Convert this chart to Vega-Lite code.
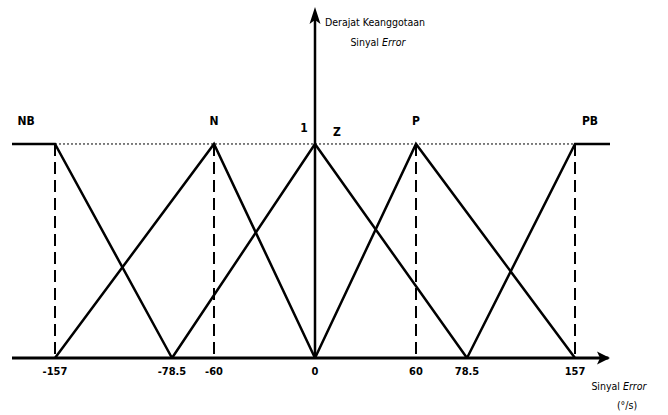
{
  "$schema": "https://vega.github.io/schema/vega-lite/v6.json",
  "width": 668,
  "height": 415,
  "padding": 0,
  "autosize": {"type": "none"},
  "background": "white",
  "config": {
    "view": {"stroke": null},
    "text": {"font": "'Liberation Sans Narrow', 'DejaVu Sans Condensed', Roboto, sans-serif", "fontSize": 10.5, "color": "black"}
  },
  "datasets": {
    "membership": [
      {"set": "NB", "order": 1, "e": -200, "mu": 1},
      {"set": "NB", "order": 2, "e": -157, "mu": 1},
      {"set": "NB", "order": 3, "e": -78.5, "mu": 0},
      {"set": "N", "order": 1, "e": -157, "mu": 0},
      {"set": "N", "order": 2, "e": -60, "mu": 1},
      {"set": "N", "order": 3, "e": 0, "mu": 0},
      {"set": "Z", "order": 1, "e": -78.5, "mu": 0},
      {"set": "Z", "order": 2, "e": 0, "mu": 1},
      {"set": "Z", "order": 3, "e": 78.5, "mu": 0},
      {"set": "P", "order": 1, "e": 0, "mu": 0},
      {"set": "P", "order": 2, "e": 60, "mu": 1},
      {"set": "P", "order": 3, "e": 157, "mu": 0},
      {"set": "PB", "order": 1, "e": 78.5, "mu": 0},
      {"set": "PB", "order": 2, "e": 157, "mu": 1},
      {"set": "PB", "order": 3, "e": 200, "mu": 1}
    ],
    "ticks": [
      {"e": -157, "label": "-157"},
      {"e": -78.5, "label": "-78.5"},
      {"e": -60, "label": "-60"},
      {"e": 0, "label": "0"},
      {"e": 60, "label": "60"},
      {"e": 78.5, "label": "78.5"},
      {"e": 157, "label": "157"}
    ],
    "guides": [
      {"e": -157},
      {"e": -60},
      {"e": 60},
      {"e": 157}
    ]
  },
  "layer": [
    {
      "data": {"values": [{"a": -157, "b": 157, "mu": 1}]},
      "mark": {"type": "rule", "color": "black", "strokeWidth": 1, "strokeDash": [2, 2]},
      "encoding": {
        "x": {"field": "a", "type": "quantitative", "axis": null,
              "scale": {"domain": [-200, -157, -78.5, -60, 0, 60, 78.5, 157, 200],
                        "range": [12, 55, 172, 214, 315, 416, 467, 575, 610],
                        "zero": false, "nice": false}},
        "x2": {"field": "b"},
        "y": {"field": "mu", "type": "quantitative", "axis": null,
              "scale": {"domain": [0, 1.64], "range": [358, 7], "zero": false, "nice": false}}
      }
    },
    {
      "data": {"name": "guides"},
      "mark": {"type": "rule", "color": "black", "strokeWidth": 2, "strokeDash": [12, 6]},
      "encoding": {
        "x": {"field": "e", "type": "quantitative"},
        "y": {"datum": 1},
        "y2": {"datum": 0}
      }
    },
    {
      "data": {"name": "membership"},
      "mark": {"type": "line", "color": "black", "strokeWidth": 2.5, "strokeJoin": "miter", "strokeCap": "butt"},
      "encoding": {
        "x": {"field": "e", "type": "quantitative"},
        "y": {"field": "mu", "type": "quantitative"},
        "detail": {"field": "set"},
        "order": {"field": "order"}
      }
    },
    {
      "data": {"values": [{"a": -200, "b": 198}]},
      "mark": {"type": "rule", "color": "black", "strokeWidth": 3},
      "encoding": {
        "x": {"field": "a", "type": "quantitative"},
        "x2": {"field": "b"},
        "y": {"datum": 0}
      }
    },
    {
      "data": {"values": [{"lo": 0, "hi": 1.6}]},
      "mark": {"type": "rule", "color": "black", "strokeWidth": 2.5},
      "encoding": {
        "x": {"datum": 0},
        "y": {"field": "lo", "type": "quantitative"},
        "y2": {"field": "hi"}
      }
    },
    {
      "data": {"values": [{"e": 0, "mu": 1.64}]},
      "mark": {"type": "point", "filled": true, "color": "black", "opacity": 1,
               "shape": "M0,0 L0.55,1.7 L0,1.3 L-0.55,1.7 Z", "size": 400},
      "encoding": {
        "x": {"field": "e", "type": "quantitative"},
        "y": {"field": "mu", "type": "quantitative"}
      }
    },
    {
      "data": {"values": [{"e": 200, "mu": 0}]},
      "mark": {"type": "point", "filled": true, "color": "black", "opacity": 1,
               "shape": "M0,0 L-1.3,-0.65 L-1.0,0 L-1.3,0.65 Z", "size": 400},
      "encoding": {
        "x": {"field": "e", "type": "quantitative"},
        "y": {"field": "mu", "type": "quantitative"}
      }
    },
    {
      "data": {"name": "ticks"},
      "mark": {"type": "text", "dy": 14, "baseline": "middle", "align": "center", "fontSize": 11, "fontWeight": 600},
      "encoding": {
        "x": {"field": "e", "type": "quantitative"},
        "y": {"datum": 0},
        "text": {"field": "label"}
      }
    },
    {
      "data": {"values": [{"e": -60, "name": "N"}, {"e": 60, "name": "P"}]},
      "mark": {"type": "text", "dy": -23, "baseline": "middle", "fontSize": 12, "fontWeight": "bold"},
      "encoding": {
        "x": {"field": "e", "type": "quantitative"},
        "y": {"datum": 1},
        "text": {"field": "name"}
      }
    },
    {
      "data": {"values": [{"e": -157, "name": "NB"}]},
      "mark": {"type": "text", "dx": -29, "dy": -23, "baseline": "middle", "fontSize": 12, "fontWeight": "bold"},
      "encoding": {
        "x": {"field": "e", "type": "quantitative"},
        "y": {"datum": 1},
        "text": {"field": "name"}
      }
    },
    {
      "data": {"values": [{"e": 157, "name": "PB"}]},
      "mark": {"type": "text", "dx": 15, "dy": -23, "baseline": "middle", "fontSize": 12, "fontWeight": "bold"},
      "encoding": {
        "x": {"field": "e", "type": "quantitative"},
        "y": {"datum": 1},
        "text": {"field": "name"}
      }
    },
    {
      "data": {"values": [{"e": 0, "name": "Z"}]},
      "mark": {"type": "text", "dx": 22, "dy": -12, "baseline": "middle", "fontSize": 12, "fontWeight": "bold"},
      "encoding": {
        "x": {"field": "e", "type": "quantitative"},
        "y": {"datum": 1},
        "text": {"field": "name"}
      }
    },
    {
      "data": {"values": [{"e": 0, "name": "1"}]},
      "mark": {"type": "text", "dx": -11, "dy": -16, "baseline": "middle", "fontSize": 12, "fontWeight": "bold"},
      "encoding": {
        "x": {"field": "e", "type": "quantitative"},
        "y": {"datum": 1},
        "text": {"field": "name"}
      }
    },
    {
      "data": {"values": [{"e": 0, "mu": 1.64}]},
      "layer": [
        {
          "mark": {"type": "text", "dx": 60, "dy": 16, "baseline": "middle", "align": "center"},
          "encoding": {"text": {"value": "Derajat Keanggotaan"}}
        },
        {
          "mark": {"type": "text", "dx": 64, "dy": 36, "baseline": "middle", "align": "right"},
          "encoding": {"text": {"value": "Sinyal"}}
        },
        {
          "mark": {"type": "text", "dx": 67, "dy": 36, "baseline": "middle", "align": "left", "fontStyle": "italic"},
          "encoding": {"text": {"value": "Error"}}
        }
      ],
      "encoding": {
        "x": {"field": "e", "type": "quantitative"},
        "y": {"field": "mu", "type": "quantitative"}
      }
    },
    {
      "data": {"values": [{"e": 200, "mu": 0}]},
      "layer": [
        {
          "mark": {"type": "text", "dx": 10, "dy": 29, "baseline": "middle", "align": "right"},
          "encoding": {"text": {"value": "Sinyal"}}
        },
        {
          "mark": {"type": "text", "dx": 13, "dy": 29, "baseline": "middle", "align": "left", "fontStyle": "italic"},
          "encoding": {"text": {"value": "Error"}}
        },
        {
          "mark": {"type": "text", "dx": 17, "dy": 48, "baseline": "middle", "align": "center"},
          "encoding": {"text": {"value": "(°/s)"}}
        }
      ],
      "encoding": {
        "x": {"field": "e", "type": "quantitative"},
        "y": {"field": "mu", "type": "quantitative"}
      }
    }
  ]
}
